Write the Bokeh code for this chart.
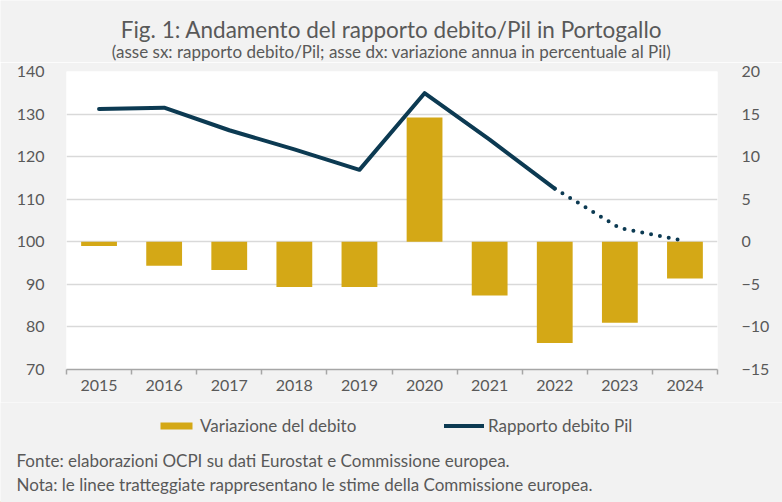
from bokeh.plotting import figure
from bokeh.layouts import column
from bokeh.models import (Range1d, LinearAxis, FixedTicker, Label, Legend,
                          LegendItem)
from bokeh.embed import file_html
from bokeh.resources import INLINE

# Data
years = ["2015", "2016", "2017", "2018", "2019", "2020", "2021", "2022", "2023", "2024"]
debt_ratio = [131.2, 131.5, 126.2, 121.7, 116.9, 134.9, 124.0, 112.5, 103.2, 100.2]
debt_change = [-0.5, -2.8, -3.3, -5.3, -5.3, 14.6, -6.3, -11.9, -9.5, -4.3]
forecast_from = "2022"  # ratio values after this year are Commission estimates

left_ticks = [70, 80, 90, 100, 110, 120, 130, 140]
right_ticks = [-15, -10, -5, 0, 5, 10, 15, 20]

BG = "#f2f2f2"
BAR = "#d4a816"
LINE = "#0c3a52"
TXT = "#595959"
FONT = "Lato"
W = 782


def text_panel(height):
    """A bare figure used as a strip of text (no axes, no grid)."""
    f = figure(width=W, height=height, output_backend="svg", toolbar_location=None,
               x_range=Range1d(0, W), y_range=Range1d(0, height),
               x_axis_location=None, y_axis_location=None, min_border=0,
               frame_align=False)
    f.background_fill_color = BG
    f.border_fill_color = BG
    f.outline_line_color = None
    f.grid.visible = False
    return f


def put(f, text, x, y, size, align="left"):
    f.add_layout(Label(x=x, y=y, x_units="screen", y_units="screen", text=text,
                       text_font=FONT, text_font_size=size, text_color=TXT,
                       text_align=align, text_baseline="middle"))


# ---- header: title and subtitle
head = text_panel(62)
put(head, "Fig. 1: Andamento del rapporto debito/Pil in Portogallo", W / 2, 33, "22.5px", "center")
put(head, "(asse sx: rapporto debito/Pil; asse dx: variazione annua in percentuale al Pil)",
    W / 2, 11, "17px", "center")

# ---- main chart
centers = [i + 0.5 for i in range(len(years))]
bounds = [float(i) for i in range(len(years) + 1)]
split = years.index(forecast_from)

p = figure(width=W, height=340, output_backend="svg", toolbar_location=None,
           x_range=Range1d(0, len(years)), y_range=Range1d(70, 140),
           min_border_left=66, min_border_right=65,
           min_border_top=9, min_border_bottom=33, frame_align=False)
p.background_fill_color = "white"
p.border_fill_color = BG
p.outline_line_color = None
p.extra_y_ranges = {"var": Range1d(-15, 20)}

# bars: annual change, right axis
bars = p.vbar(x=centers, top=debt_change, bottom=0, width=0.55,
              color=BAR, line_color=None, y_range_name="var")

# line: debt/GDP ratio, solid for outturns, dotted for estimates
p.line(x=centers[:split + 1], y=debt_ratio[:split + 1], line_color=LINE,
       line_width=4, line_cap="round", line_join="round")
p.line(x=centers[split:], y=debt_ratio[split:], line_color=LINE,
       line_width=4, line_cap="round", line_dash="0 9")

xa = p.xaxis[0]
xa.ticker = FixedTicker(ticks=centers, minor_ticks=bounds)
xa.major_label_overrides = {c: y for c, y in zip(centers, years)}
xa.major_tick_line_color = None
xa.major_tick_out = 0
xa.major_tick_in = 0
xa.minor_tick_out = 5
xa.minor_tick_in = 0
xa.minor_tick_line_color = "#a6a6a6"
xa.minor_tick_line_width = 1.5
xa.axis_line_color = "#a6a6a6"
xa.axis_line_width = 1.5
xa.major_label_standoff = 5

ya = p.yaxis[0]
ya.ticker = FixedTicker(ticks=left_ticks)
ya.axis_line_color = None
ya.major_tick_line_color = None
ya.minor_tick_line_color = None
ya.major_label_standoff = 16

ra = LinearAxis(y_range_name="var", ticker=FixedTicker(ticks=right_ticks))
ra.axis_line_color = None
ra.major_tick_line_color = None
ra.minor_tick_line_color = None
ra.major_label_standoff = 18
p.add_layout(ra, "right")

for ax in (xa, ya, ra):
    ax.major_label_text_font = FONT
    ax.major_label_text_font_size = "16px"
    ax.major_label_text_color = TXT

p.xgrid.grid_line_color = None
p.ygrid.ticker = FixedTicker(ticks=left_ticks)
p.ygrid.grid_line_color = "#d9d9d9"
p.ygrid.grid_line_width = 1.5

# ---- footer: legend and notes
foot = text_panel(100)
# key glyphs for the legend, parked outside the visible strip
key_bar = foot.vbar(x=[-1000], top=[1], width=1, color=BAR, line_color=None)
key_line = foot.line(x=[-1000, -999], y=[1, 1], line_color=LINE, line_width=4,
                     line_cap="round")


def key(label, renderer, x):
    foot.add_layout(Legend(items=[LegendItem(label=label, renderers=[renderer])],
                           location=(x, 66), glyph_width=40, glyph_height=9,
                           label_height=9, label_standoff=4, padding=0, margin=0,
                           background_fill_alpha=0, border_line_color=None,
                           label_text_font=FONT, label_text_font_size="17px",
                           label_text_color=TXT))


key("Variazione del debito", key_bar, 156)
key("Rapporto debito Pil", key_line, 444)

put(foot, "Fonte: elaborazioni OCPI su dati Eurostat e Commissione europea.", 16, 42, "17px")
put(foot, "Nota: le linee tratteggiate rappresentano le stime della Commissione europea.", 16, 18, "17px")

open("out.html", "w").write(file_html(column(head, p, foot, spacing=0), INLINE))
